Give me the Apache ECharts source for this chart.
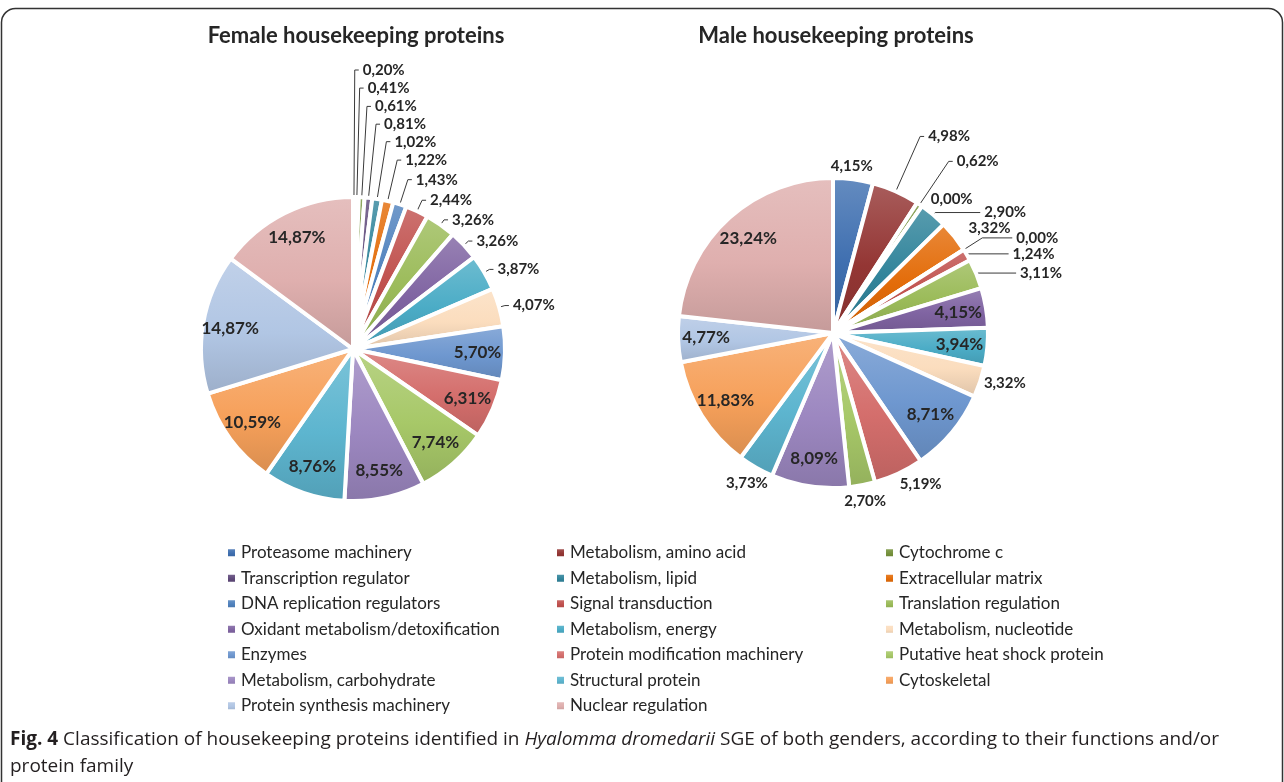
<!DOCTYPE html>
<html>
<head>
<meta charset="utf-8">
<title>Housekeeping proteins</title>
<script src="https://cdn.jsdelivr.net/npm/echarts@6/dist/echarts.min.js"></script>
<style>
  html, body { margin: 0; padding: 0; background: #fff; }
  #chart { width: 1284px; height: 782px; }
</style>
</head>
<body>
<div id="chart"></div>
<script>
// categories, in legend order
var categories = [
  "Proteasome machinery", "Metabolism, amino acid", "Cytochrome c",
  "Transcription regulator", "Metabolism, lipid", "Extracellular matrix",
  "DNA replication regulators", "Signal transduction", "Translation regulation",
  "Oxidant metabolism/detoxification", "Metabolism, energy", "Metabolism, nucleotide",
  "Enzymes", "Protein modification machinery", "Putative heat shock protein",
  "Metabolism, carbohydrate", "Structural protein", "Cytoskeletal",
  "Protein synthesis machinery", "Nuclear regulation"
];
// percentages
var femaleValues = [0.20, 0.41, 0.61, 0.81, 1.02, 1.22, 1.43, 2.44, 3.26, 3.26,
  3.87, 4.07, 5.70, 6.31, 7.74, 8.55, 8.76, 10.59, 14.87, 14.87];
var maleValues = [4.15, 4.98, 0.62, 0.00, 2.90, 3.32, 0.00, 1.24, 3.11, 4.15,
  3.94, 3.32, 8.71, 5.19, 2.70, 8.09, 3.73, 11.83, 4.77, 23.24];

// colours (Office 2010 style)
var palette = ["#3F6FB0", "#943634", "#76923C", "#5F497A", "#31849B", "#E36C09",
  "#4F81BD", "#C0504D", "#9BBB59", "#8064A2", "#4BACC6", "#FBDDBE",
  "#6E97CF", "#D46E6C", "#A7C868", "#9C87C0", "#5DB5CF", "#F6A05A",
  "#B1C6E4", "#DFAFAE"];

// label style per slice: in = inside, out = outside with leader line, near = outside no line
var femaleLabelMode = ["out", "out", "out", "out", "out", "out", "out", "out", "out", "out",
  "out", "out", "in", "in", "in", "in", "in", "in", "in", "in"];
var femaleLine = [[127, 4], [109, 4], [91, 4], [74, 4], [58, 4], [42, 4], [26, 4], [12, 4],
  [6, 4], [6, 4], [6, 4], [6, 4], null, null, null, null, null, null, null, null];
var maleLabelMode = ["near", "out", "out", "near", "out", "near", "out", "out", "out", "in",
  "in", "near", "in", "near", "near", "in", "near", "in", "in", "in"];
var maleLine = [[13, -28], [60, 4], [52, 4], [8, 0], [3, 45], [13, 0], [22, 30], [2, 40],
  [2, 38], null, null, [6, -6], null, [12, -8], [16, -25], null, [18, -25], null, null, null];

(function() {
  var myChart = echarts.init(document.getElementById("chart"));

  function fmt(v) {
    return v.toFixed(2).replace(".", ",") + "%";
  }
  // mix a colour with white (amt > 0) or black (amt < 0)
  function shade(hex, amt) {
    var n = parseInt(hex.slice(1), 16);
    var c = [n >> 16, (n >> 8) & 255, n & 255];
    var t = amt < 0 ? 0 : 255, p = Math.abs(amt);
    c = c.map(function(x) { return Math.round(x + (t - x) * p); });
    return "rgb(" + c.join(",") + ")";
  }
  function fill(i) {
    var c = palette[i];
    return new echarts.graphic.LinearGradient(0, 0, 0, 1, [
      { offset: 0, color: shade(c, 0.2) },
      { offset: 0.55, color: c },
      { offset: 1, color: shade(c, -0.12) }
    ]);
  }

  function sliceData(values) {
    return categories.map(function(name, i) {
      return { name: name, value: values[i], itemStyle: { color: fill(i) } };
    });
  }
  function labelData(values, modes, lines) {
    return categories.map(function(name, i) {
      var item = { name: name, value: values[i] };
      if (modes[i] === "in") {
        item.label = { position: "inside", fontSize: 17 };
        item.labelLine = { show: false };
      } else {
        item.label = { position: "outside" };
        item.labelLine = { show: modes[i] === "out", length: lines[i][0], length2: lines[i][1] };
      }
      return item;
    });
  }

  // one pie draws the slices, a transparent ring on top carries the labels
  function pies(values, modes, lines, center, r) {
    return [
      {
        type: "pie",
        silent: true,
        center: center,
        radius: [0, r],
        startAngle: 90,
        clockwise: true,
        label: { show: false },
        labelLine: { show: false },
        itemStyle: { borderColor: "#fff", borderWidth: 4 },
        data: sliceData(values)
      },
      {
        type: "pie",
        silent: true,
        center: center,
        radius: [r * 0.6, r],
        startAngle: 90,
        clockwise: true,
        avoidLabelOverlap: false,
        minShowLabelAngle: 0,
        itemStyle: { color: "rgba(0,0,0,0)", borderWidth: 0 },
        label: {
          show: true,
          formatter: function(p) { return fmt(p.value); },
          fontFamily: "Lato",
          fontWeight: "bold",
          fontSize: 15,
          color: "#262626",
          distanceToLabelLine: 4
        },
        labelLine: { lineStyle: { color: "#3a3a3a", width: 1 } },
        data: labelData(values, modes, lines)
      }
    ];
  }

  var option = {
    animation: false,
    legend: {
      data: categories,
      left: 221,
      top: 539,
      width: 1010,
      icon: "rect",
      itemWidth: 9,
      itemHeight: 9,
      itemGap: 8,
      selectedMode: false,
      textStyle: {
        fontFamily: "Lato",
        fontSize: 17,
        color: "#262626",
        width: 306,
        lineHeight: 17.5
      }
    },
    series: pies(femaleValues, femaleLabelMode, femaleLine, [353, 349], 152)
      .concat(pies(maleValues, maleLabelMode, maleLine, [833, 333], 155)),
    graphic: [
      {
        type: "rect",
        silent: true,
        shape: { x: 1.5, y: 8.5, width: 1281, height: 800, r: 14 },
        style: { fill: "none", stroke: "#333", lineWidth: 1.5 }
      },
      {
        type: "text",
        x: 356, y: 36,
        style: {
          text: "Female housekeeping proteins",
          fontFamily: "Lato", fontWeight: "bold", fontSize: 22,
          fill: "#262626", align: "center", verticalAlign: "middle"
        }
      },
      {
        type: "text",
        x: 836, y: 36,
        style: {
          text: "Male housekeeping proteins",
          fontFamily: "Lato", fontWeight: "bold", fontSize: 22,
          fill: "#262626", align: "center", verticalAlign: "middle"
        }
      },
      {
        type: "text",
        x: 10, y: 740,
        style: {
          text: "{b|Fig. 4} Classification of housekeeping proteins identified in {i|Hyalomma dromedarii} SGE of both genders, according to their functions and/or",
          fontFamily: "Open Sans", fontSize: 19, fill: "#231f20", verticalAlign: "middle",
          rich: {
            b: { fontFamily: "Open Sans", fontSize: 19, fontWeight: "bold", fill: "#231f20" },
            i: { fontFamily: "Open Sans", fontSize: 19, fontStyle: "italic", fill: "#231f20" }
          }
        }
      },
      {
        type: "text",
        x: 10, y: 767,
        style: {
          text: "protein family",
          fontFamily: "Open Sans", fontSize: 19, fill: "#231f20", verticalAlign: "middle"
        }
      }
    ]
  };
  myChart.setOption(option);
})();
</script>
</body>
</html>
